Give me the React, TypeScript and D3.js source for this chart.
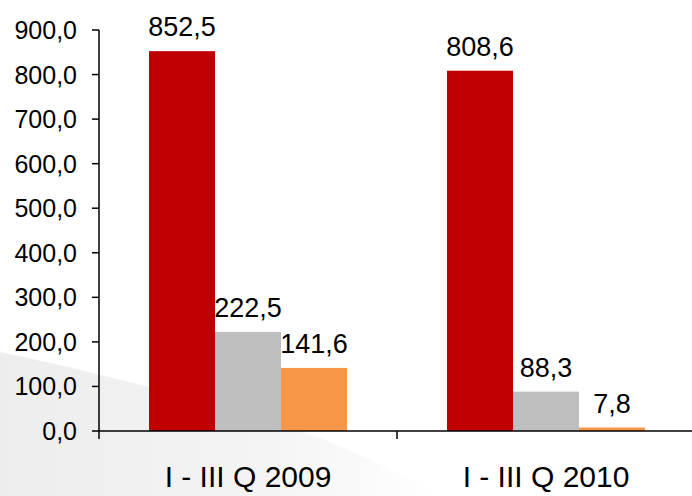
import * as d3 from "d3";
import { useEffect, useRef } from "react";

const categories = ["I - III Q 2009", "I - III Q 2010"];
const seriesNames = ["s1", "s2", "s3"];
const seriesColors = ["#C00000", "#BFBFBF", "#F79646"];
const values = [
    [852.5, 222.5, 141.6],
    [808.6, 88.3, 7.8],
];
const yTicks = [0, 100, 200, 300, 400, 500, 600, 700, 800, 900];

const W = 692;
const H = 496;

const fmt = (v: number) => v.toFixed(1).replace(".", ",");

export default function App() {
    const ref = useRef<SVGSVGElement | null>(null);

    useEffect(() => {
        if (!ref.current) return;
        const svg = d3.select(ref.current);
        svg.selectAll("*").remove();

        // background swoosh
        const defs = svg.append("defs");
        const grad = defs.append("linearGradient")
            .attr("id", "swoosh")
            .attr("x1", "0").attr("y1", "0").attr("x2", "1").attr("y2", "0");
        grad.append("stop").attr("offset", "0").attr("stop-color", "#ededed");
        grad.append("stop").attr("offset", "0.6").attr("stop-color", "#f4f4f4");
        grad.append("stop").attr("offset", "1").attr("stop-color", "#ffffff");

        svg.append("path")
            .attr("d", "M0,352 Q160,385 320,438 Q380,462 440,496 L0,496 Z")
            .attr("fill", "url(#swoosh)");

        const left = 99, right = 695, top = 30, bottom = 431;

        const y = d3.scaleLinear().domain([0, 900]).range([bottom, top]);
        const x0 = d3.scaleBand().domain(categories).range([left, right]);
        const x1 = d3.scaleBand()
            .domain(seriesNames)
            .range([50, x0.bandwidth() - 50]);

        const font = "'Liberation Sans', Arial, sans-serif";

        // bars
        const groups = svg.selectAll("g.cat")
            .data(categories)
            .join("g")
            .attr("class", "cat")
            .attr("transform", d => `translate(${x0(d)},0)`);

        groups.selectAll("rect")
            .data((_, i) => values[i].map((v, j) => ({ v, s: seriesNames[j], c: seriesColors[j] })))
            .join("rect")
            .attr("x", d => x1(d.s)!)
            .attr("width", x1.bandwidth())
            .attr("y", d => y(d.v))
            .attr("height", d => bottom - y(d.v))
            .attr("fill", d => d.c);

        groups.selectAll("text")
            .data((_, i) => values[i].map((v, j) => ({ v, s: seriesNames[j] })))
            .join("text")
            .attr("x", d => x1(d.s)! + x1.bandwidth() / 2)
            .attr("y", d => y(d.v) - 15)
            .attr("text-anchor", "middle")
            .attr("font-family", font)
            .attr("font-size", 27)
            .attr("fill", "#000")
            .text(d => fmt(d.v));

        // y axis
        svg.append("line")
            .attr("x1", left).attr("x2", left)
            .attr("y1", top).attr("y2", bottom + 8)
            .attr("stroke", "#000").attr("stroke-width", 1.5);

        const yt = svg.selectAll("g.yt")
            .data(yTicks)
            .join("g")
            .attr("class", "yt")
            .attr("transform", d => `translate(0,${y(d)})`);
        yt.append("line")
            .attr("x1", left - 7).attr("x2", left)
            .attr("stroke", "#000").attr("stroke-width", 1.5);
        yt.append("text")
            .attr("x", left - 22)
            .attr("dy", "0.36em")
            .attr("text-anchor", "end")
            .attr("font-family", font)
            .attr("font-size", 25)
            .text(d => fmt(d));

        // x axis
        svg.append("line")
            .attr("x1", left).attr("x2", W)
            .attr("y1", bottom).attr("y2", bottom)
            .attr("stroke", "#000").attr("stroke-width", 1.5);

        svg.selectAll("line.xt")
            .data(categories.slice(1))
            .join("line")
            .attr("class", "xt")
            .attr("x1", d => x0(d)!).attr("x2", d => x0(d)!)
            .attr("y1", bottom).attr("y2", bottom + 8)
            .attr("stroke", "#000").attr("stroke-width", 1.5);

        svg.selectAll("text.xl")
            .data(categories)
            .join("text")
            .attr("class", "xl")
            .attr("x", d => x0(d)! + x0.bandwidth() / 2)
            .attr("y", 487)
            .attr("text-anchor", "middle")
            .attr("font-family", font)
            .attr("font-size", 30)
            .text(d => d);
    }, []);

    return (
        <svg
            ref={ref}
            width={W}
            height={H}
            style={{ position: "absolute", left: 0, top: 0, background: "#fff" }}
        />
    );
}
